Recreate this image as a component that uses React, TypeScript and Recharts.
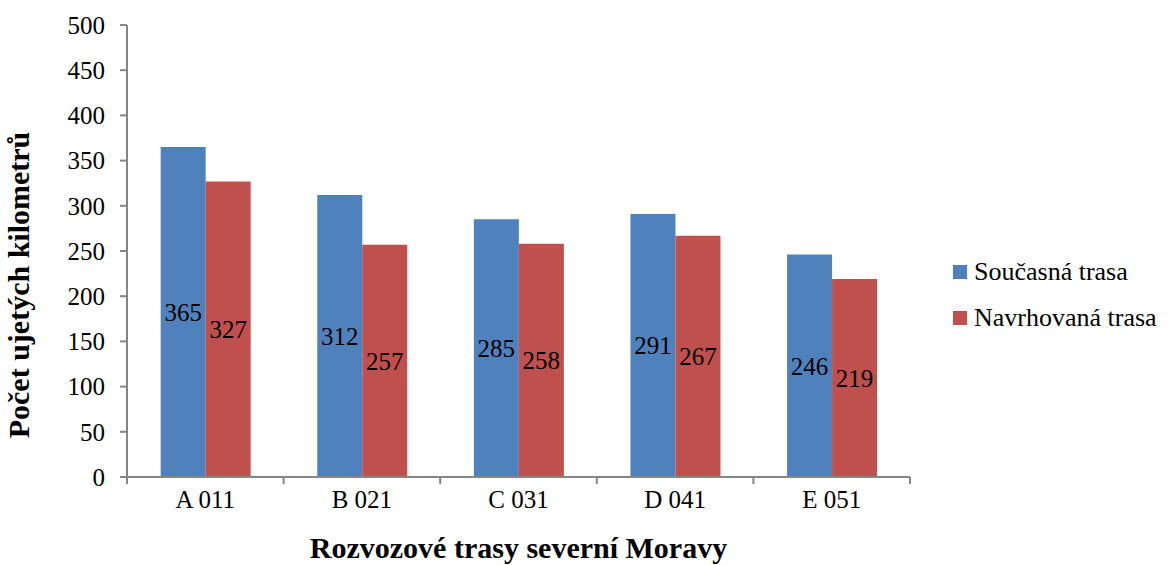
import React from 'react'
import { BarChart, Bar, XAxis, YAxis, LabelList } from 'recharts'

const routes = ['A 011', 'B 021', 'C 031', 'D 041', 'E 051']
const currentKm = [365, 312, 285, 291, 246]
const proposedKm = [327, 257, 258, 267, 219]
const yTicks = [0, 50, 100, 150, 200, 250, 300, 350, 400, 450, 500]

const seriesNames = ['Současná trasa', 'Navrhovaná trasa']
const colors = ['#4F81BD', '#C0504D']

const FONT = "'Liberation Serif', Tinos, 'Times New Roman', Times, 'DejaVu Serif', serif"
const AXIS_COLOR = '#868686'

const WIDTH = 1172
const HEIGHT = 565
const margin = { top: 25, right: 262, bottom: 0, left: 0 }
const Y_AXIS_WIDTH = 127
const X_AXIS_HEIGHT = 88

const data = routes.map((name, i) => ({
  name,
  current: currentKm[i],
  proposed: proposedKm[i],
}))

// category ticks sit between groups, like an office chart
const plotWidth = WIDTH - margin.left - margin.right - Y_AXIS_WIDTH
const band = plotWidth / routes.length

function CategoryTick(props: any) {
  const { x, y, payload, index } = props
  const left = x - band / 2
  const right = x + band / 2
  return (
    <g>
      <line x1={left} y1={y - 8} x2={left} y2={y - 1} stroke={AXIS_COLOR} strokeWidth={2} />
      {index === routes.length - 1 && (
        <line x1={right} y1={y - 8} x2={right} y2={y - 1} stroke={AXIS_COLOR} strokeWidth={2} />
      )}
      <text x={x} y={y + 23} textAnchor="middle" style={{ fontFamily: FONT }} fontSize={25} fill="#000">
        {payload.value}
      </text>
    </g>
  )
}

function LegendBox() {
  return (
    <div
      style={{
        position: 'absolute',
        left: 953,
        top: 249,
        fontFamily: FONT,
        fontSize: 26,
        color: '#000',
        lineHeight: 1,
      }}
    >
      {seriesNames.map((name, i) => (
        <div key={name} style={{ display: 'flex', alignItems: 'center', height: 46 }}>
          <span style={{ width: 14, height: 14, background: colors[i], marginRight: 7 }} />
          <span>{name}</span>
        </div>
      ))}
    </div>
  )
}

export default function App() {
  return (
    <div
      style={{
        position: 'absolute',
        left: 0,
        top: 0,
        width: WIDTH,
        height: HEIGHT,
        background: '#fff',
        fontFamily: FONT,
      }}
    >
      <BarChart
        width={WIDTH}
        height={HEIGHT}
        data={data}
        margin={margin}
        barCategoryGap="21.5%"
        barGap={0}
        style={{ fontFamily: FONT }}
      >
        <XAxis
          dataKey="name"
          height={X_AXIS_HEIGHT}
          axisLine={{ stroke: AXIS_COLOR, strokeWidth: 2 }}
          tickLine={false}
          tick={<CategoryTick />}
          interval={0}
          label={{
            value: 'Rozvozové trasy severní Moravy',
            position: 'insideBottom',
            offset: 7,
            fontSize: 30,
            fontWeight: 'bold',
            fill: '#000',
            style: { fontFamily: FONT },
          }}
        />
        <YAxis
          width={Y_AXIS_WIDTH}
          domain={[0, 500]}
          ticks={yTicks}
          interval={0}
          axisLine={{ stroke: AXIS_COLOR, strokeWidth: 2 }}
          tickLine={{ stroke: AXIS_COLOR, strokeWidth: 2 }}
          tickSize={7}
          tickMargin={15}
          tick={{ fontSize: 25, fill: '#000', style: { fontFamily: FONT } }}
          label={{
            value: 'Počet ujetých kilometrů',
            angle: -90,
            position: 'insideLeft',
            offset: 18,
            dy: 34,
            fontSize: 30,
            fontWeight: 'bold',
            fill: '#000',
            style: { textAnchor: 'middle', fontFamily: FONT },
          }}
        />
        <Bar dataKey="current" name={seriesNames[0]} fill={colors[0]} isAnimationActive={false}>
          <LabelList dataKey="current" position="center" fontSize={25} fill="#000" style={{ fontFamily: FONT }} />
        </Bar>
        <Bar dataKey="proposed" name={seriesNames[1]} fill={colors[1]} isAnimationActive={false}>
          <LabelList dataKey="proposed" position="center" fontSize={25} fill="#000" style={{ fontFamily: FONT }} />
        </Bar>
      </BarChart>
      <LegendBox />
    </div>
  )
}
